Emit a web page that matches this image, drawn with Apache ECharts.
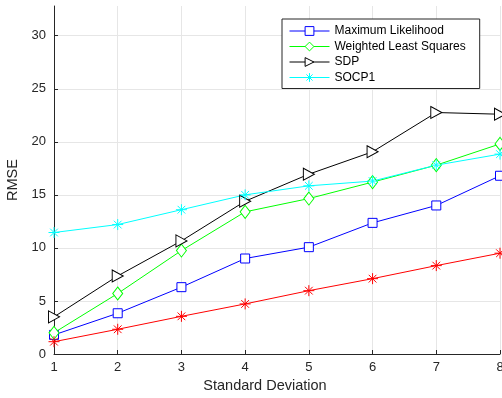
<!DOCTYPE html>
<html>
<head>
<meta charset="utf-8">
<script src="https://cdn.jsdelivr.net/npm/echarts@6/dist/echarts.min.js"></script>
<style>html,body{margin:0;padding:0;background:#fff}#c{width:502px;height:398px}</style>
</head>
<body>
<div id="c"></div>
<script>
var xValues = [1, 2, 3, 4, 5, 6, 7, 8];
var mlValues = [1.8, 3.84, 6.3, 9.0, 10.07, 12.36, 14.0, 16.8];
var wlsValues = [2.0, 5.7, 9.75, 13.4, 14.65, 16.2, 17.8, 19.8];
var sdpValues = [3.5, 7.36, 10.66, 14.4, 16.95, 19.06, 22.76, 22.6];
var socpValues = [11.45, 12.2, 13.6, 15.0, 15.85, 16.3, 17.8, 18.84];
var crlbValues = [1.16, 2.33, 3.55, 4.72, 5.97, 7.1, 8.33, 9.5];
var seriesNames = ['Maximum Likelihood', 'Weighted Least Squares', 'SDP', 'SOCP1'];
var yTicks = [0, 5, 10, 15, 20, 25, 30];

function pairs(v) { return xValues.map(function (x, i) { return [x, v[i]]; }); }
var asterisk = 'path://M0,-10 L0,10 M-10,0 L10,0 M-7,-7 L7,7 M-7,7 L7,-7';
var triRight = 'path://M0,0 L10,5 L0,10 Z';

var chart = echarts.init(document.getElementById('c'));
var font = 'Liberation Sans, Arial, Helvetica, sans-serif';
function mk(name, data, color, symbol, size, fillWhite) {
  return {
    name: name, type: 'line', data: pairs(data), symbol: symbol, symbolSize: size,
    lineStyle: { color: color, width: 1 },
    itemStyle: { color: fillWhite ? '#fff' : color, borderColor: color, borderWidth: 1 },
    emphasis: { disabled: true }, animation: false, z: 3
  };
}
chart.setOption({
  animation: false,
  grid: { left: 54, right: 2, top: 6, bottom: 44, containLabel: false, outerBoundsMode: 'none' },
  legend: {
    data: seriesNames, orient: 'vertical', left: 282, top: 19,
    itemWidth: 40, itemHeight: 11, itemGap: 3.5,
    padding: [6, 14, 5, 7],
    backgroundColor: '#fff', borderColor: '#262626', borderWidth: 1,
    lineStyle: { width: 1 },
    itemStyle: { borderWidth: 1 },
    textStyle: { fontFamily: font, fontSize: 12, color: '#000' },
    selectedMode: false
  },
  xAxis: {
    type: 'value', min: 1, max: 8, interval: 1,
    name: 'Standard Deviation', nameLocation: 'middle', nameGap: 23,
    nameTextStyle: { fontFamily: font, fontSize: 14.5, color: '#262626', padding: [0, 24, 0, 0] },
    axisLine: { show: true, onZero: false, lineStyle: { color: '#262626', width: 1 } },
    axisTick: { show: true, inside: true, length: 4, lineStyle: { color: '#262626' } },
    axisLabel: { fontFamily: font, fontSize: 13, color: '#262626', margin: 7 },
    splitLine: { show: true, lineStyle: { color: '#e6e6e6', width: 1 } }
  },
  yAxis: {
    type: 'value', min: 0, max: 32.8, interval: 5,
    name: 'RMSE', nameLocation: 'middle', nameGap: 28, nameRotate: 90,
    nameTextStyle: { fontFamily: font, fontSize: 14.5, color: '#262626' },
    axisLine: { show: true, lineStyle: { color: '#262626', width: 1 } },
    axisTick: { show: true, inside: true, length: 4, lineStyle: { color: '#262626' } },
    axisLabel: { fontFamily: font, fontSize: 13, color: '#262626', margin: 8, showMaxLabel: false,
      formatter: function (v) { return yTicks.indexOf(v) >= 0 ? String(v) : ''; } },
    splitLine: { show: true, showMaxLine: false, lineStyle: { color: '#e6e6e6', width: 1 } }
  },
  series: [
    mk(seriesNames[0], mlValues, '#0000ff', 'rect', 9, true),
    mk(seriesNames[1], wlsValues, '#00ff00', 'diamond', [10, 13], true),
    mk(seriesNames[2], sdpValues, '#000000', triRight, [11, 12], true),
    mk(seriesNames[3], socpValues, '#00ffff', asterisk, 11, false),
    mk('CRLB', crlbValues, '#ff0000', asterisk, 11, false)
  ]
});
</script>
</body>
</html>
